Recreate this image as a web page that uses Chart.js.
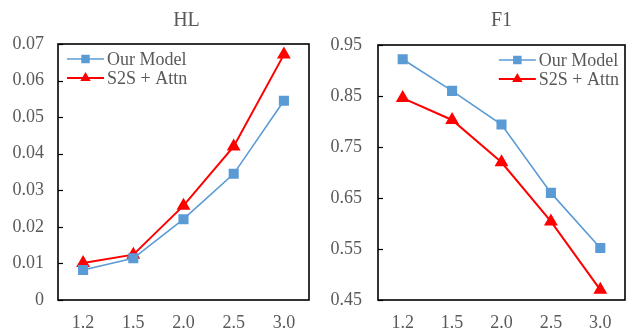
<!DOCTYPE html>
<html>
<head>
<meta charset="utf-8">
<script src="https://cdn.jsdelivr.net/npm/chart.js@4/dist/chart.umd.min.js"></script>
<style>
  body { margin: 0; background: #fff; }
  .panel { position: absolute; top: 0; height: 330px; }
  #hlBox { left: 0; width: 317px; }
  #f1Box { left: 318px; width: 315px; }
</style>
</head>
<body>
<div class="panel" id="hlBox"><canvas id="hlChart"></canvas></div>
<div class="panel" id="f1Box"><canvas id="f1Chart"></canvas></div>
<script>
const categories = ["1.2", "1.5", "2.0", "2.5", "3.0"];
const seriesNames = ["Our Model", "S2S + Attn"];

const hlOurModel = [0.0082, 0.0114, 0.0221, 0.0345, 0.0545];
const hlS2S = [0.0101, 0.0124, 0.0258, 0.0420, 0.0671];
const f1OurModel = [0.922, 0.860, 0.794, 0.660, 0.552];
const f1S2S = [0.846, 0.803, 0.720, 0.604, 0.470];

const hlTickValues = [0, 0.01, 0.02, 0.03, 0.04, 0.05, 0.06, 0.07];
const hlTickLabels = ["0", "0.01", "0.02", "0.03", "0.04", "0.05", "0.06", "0.07"];
const f1TickValues = [0.45, 0.55, 0.65, 0.75, 0.85, 0.95];
const f1TickLabels = ["0.45", "0.55", "0.65", "0.75", "0.85", "0.95"];

const FONT = '"Liberation Serif", "Times New Roman", serif';
const GRAY = "#595959";
const BLUE = "#5B9BD5";
const RED = "#FF0000";

Chart.defaults.font.family = FONT;
Chart.defaults.color = GRAY;

function marker(ctx, style, x, y, r, color) {
  ctx.fillStyle = color;
  ctx.beginPath();
  if (style === "rect") {
    const s = r * Math.SQRT1_2;
    ctx.rect(x - s, y - s, 2 * s, 2 * s);
  } else {
    ctx.moveTo(x, y - r);
    ctx.lineTo(x + r * 0.866, y + r / 2);
    ctx.lineTo(x - r * 0.866, y + r / 2);
    ctx.closePath();
  }
  ctx.fill();
}

// plot box, inward y ticks, title and Excel-like legend
const framePlugin = {
  id: "frame",
  beforeDatasetsDraw(chart) {
    const { ctx, chartArea: a } = chart;
    const y = chart.scales.y;
    ctx.save();
    ctx.strokeStyle = "#000";
    ctx.lineWidth = 1.6;
    ctx.strokeRect(a.left, a.top, a.right - a.left, a.bottom - a.top);
    ctx.lineWidth = 1.2;
    y.ticks.forEach(t => {
      const py = Math.round(y.getPixelForValue(t.value)) + 0.5;
      ctx.beginPath();
      ctx.moveTo(a.left, py);
      ctx.lineTo(a.left + 5, py);
      ctx.stroke();
    });
    ctx.restore();
  },
  afterDraw(chart, args, opts) {
    const { ctx, chartArea: a } = chart;
    ctx.save();
    ctx.fillStyle = GRAY;
    ctx.font = "20px " + FONT;
    ctx.textAlign = "center";
    ctx.textBaseline = "middle";
    ctx.fillText(opts.title, (a.left + a.right) / 2 + opts.titleShift, 21);

    ctx.font = "18px " + FONT;
    ctx.textAlign = "left";
    const ds = chart.data.datasets;
    const textW = Math.max(...ds.map(d => ctx.measureText(d.label).width));
    const lineLen = 37;
    const x0 = opts.legendRight
      ? a.right - 6 - textW - 3 - lineLen
      : a.left + 9;
    ds.forEach((d, i) => {
      const ly = a.top + 15 + i * 19;
      ctx.strokeStyle = d.borderColor;
      ctx.lineWidth = d.borderWidth;
      ctx.beginPath();
      ctx.moveTo(x0, ly);
      ctx.lineTo(x0 + lineLen, ly);
      ctx.stroke();
      marker(ctx, d.pointStyle, x0 + lineLen / 2, ly, d.pointRadius, d.pointBackgroundColor);
      ctx.fillStyle = GRAY;
      ctx.fillText(d.label, x0 + lineLen + 3, ly + 1);
    });
    ctx.restore();
  }
};

function makePanel(id, title, ourValues, s2sValues, tickValues, tickLabels, cfg) {
  new Chart(document.getElementById(id), {
    type: "line",
    data: {
      labels: categories,
      datasets: [
        {
          label: seriesNames[0],
          data: ourValues,
          borderColor: BLUE,
          backgroundColor: BLUE,
          pointBackgroundColor: BLUE,
          pointBorderColor: BLUE,
          pointStyle: "rect",
          pointRadius: 6,
          borderWidth: 1.6,
          tension: 0
        },
        {
          label: seriesNames[1],
          data: s2sValues,
          borderColor: RED,
          backgroundColor: RED,
          pointBackgroundColor: RED,
          pointBorderColor: RED,
          pointStyle: "triangle",
          pointRadius: 6,
          borderWidth: 2,
          tension: 0
        }
      ]
    },
    options: {
      responsive: true,
      maintainAspectRatio: false,
      animation: false,
      layout: { padding: { left: 0, right: 1, top: cfg.top, bottom: 0 } },
      plugins: {
        legend: { display: false },
        title: { display: false },
        tooltip: { enabled: false },
        frame: { title: title, legendRight: cfg.legendRight, titleShift: cfg.titleShift }
      },
      scales: {
        x: {
          offset: true,
          grid: { display: false, drawTicks: false },
          border: { display: false },
          ticks: { padding: 12, font: { size: 18 }, color: GRAY },
          afterFit: s => { s.height = 30; }
        },
        y: {
          min: tickValues[0],
          max: tickValues[tickValues.length - 1],
          grid: { display: false, drawTicks: false },
          border: { display: false },
          afterBuildTicks: s => { s.ticks = tickValues.map(v => ({ value: v })); },
          ticks: {
            padding: cfg.labelGap,
            font: { size: 18 },
            color: GRAY,
            callback: (v, i) => tickLabels[i]
          },
          afterFit: s => { s.width = cfg.axisWidth; }
        }
      }
    },
    plugins: [framePlugin]
  });
}

makePanel("hlChart", "HL", hlOurModel, hlS2S, hlTickValues, hlTickLabels,
  { top: 44, axisWidth: 58, labelGap: 14, legendRight: false, titleShift: 3 });
makePanel("f1Chart", "F1", f1OurModel, f1S2S, f1TickValues, f1TickLabels,
  { top: 45, axisWidth: 60, labelGap: 16, legendRight: true, titleShift: 0 });
</script>
</body>
</html>
